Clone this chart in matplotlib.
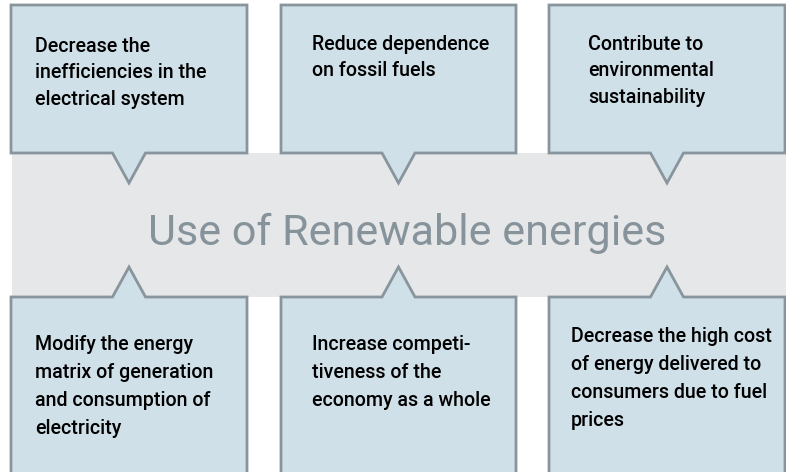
import matplotlib
matplotlib.use("Agg")
from matplotlib import pyplot as plt
from matplotlib.patches import Polygon, Rectangle

# texts of the six callout boxes
top_texts = ["Decrease the\ninefficiencies in the\nelectrical system",
             "Reduce dependence\non fossil fuels",
             "Contribute to\nenvironmental\nsustainability"]
bottom_texts = ["Modify the energy\nmatrix of generation\nand consumption of\nelectricity",
                "Increase competi-\ntiveness of the\neconomy as a whole",
                "Decrease the high cost\nof energy delivered to\nconsumers due to fuel\nprices"]
title = "Use of Renewable energies"

# layout in pixels
box_left = [11, 281, 549]
box_right = [247, 516, 785]
top_text_x = [35, 312, 588]
bottom_text_x = [35, 312, 571]
top_first_base = [52, 50, 50]
bottom_first_base = [350, 350, 342]

fill_col = "#D0E0E8"
edge_col = "#89959D"
band_col = "#E6E7E9"
title_col = "#87939B"
fam = ["Roboto", "DejaVu Sans"]

fig = plt.figure(figsize=(7.86, 4.72), dpi=100)
ax = fig.add_axes([0, 0, 1, 1])
ax.set_xlim(0, 786)
ax.set_ylim(472, 0)
ax.axis("off")
renderer = fig.canvas.get_renderer()


def fit_size(s, width_px, weight="normal"):
    # font size that gives the string the wanted width in pixels
    t = ax.text(0, 0, s, fontsize=10, family=fam, weight=weight)
    w = t.get_window_extent(renderer).width
    t.remove()
    return 10 * width_px / w


title_size = fit_size(title, 520)
body_size = min(fit_size("Decrease the high cost", 203, "medium"),
                fit_size("inefficiencies in the", 172, "medium"))

# grey band in the middle
ax.add_patch(Rectangle((12, 153), 790, 144, facecolor=band_col, edgecolor="none", zorder=1))
ax.text(407, 245, title, ha="center", va="baseline", fontsize=title_size, color=title_col,
        family=fam, zorder=3)

half = 16.5
for i in range(3):
    x0, x1 = box_left[i], box_right[i]
    cx = (x0 + x1) / 2
    # top box, pointer going down
    pts = [(x0, 5), (x1, 5), (x1, 153), (cx + half, 153), (cx, 183),
           (cx - half, 153), (x0, 153)]
    ax.add_patch(Polygon(pts, closed=True, facecolor=fill_col, edgecolor=edge_col,
                         lw=2, joinstyle="miter", zorder=2))
    # bottom box, pointer going up
    pts = [(x0, 297), (cx - half, 297), (cx, 267), (cx + half, 297), (x1, 297),
           (x1, 490), (x0, 490)]
    ax.add_patch(Polygon(pts, closed=True, facecolor=fill_col, edgecolor=edge_col,
                         lw=2, joinstyle="miter", zorder=2))

    for j, line in enumerate(top_texts[i].split("\n")):
        ax.text(top_text_x[i], top_first_base[i] + j * 26.5, line, va="baseline",
                fontsize=body_size, family=fam, weight="medium", color="black", zorder=3)
    for j, line in enumerate(bottom_texts[i].split("\n")):
        ax.text(bottom_text_x[i], bottom_first_base[i] + j * 28, line, va="baseline",
                fontsize=body_size, family=fam, weight="medium", color="black", zorder=3)

fig.savefig("out.png", dpi=100)
